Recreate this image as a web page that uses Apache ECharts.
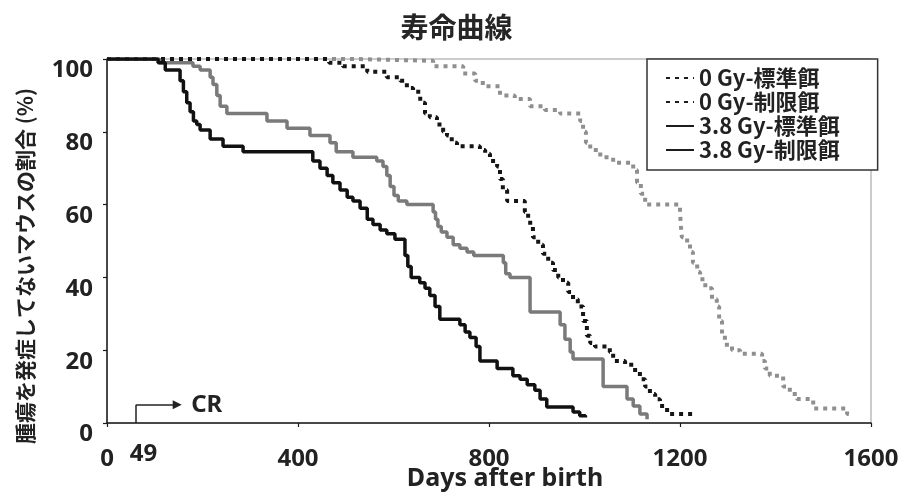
<!DOCTYPE html>
<html>
<head>
<meta charset="utf-8">
<script src="https://cdn.jsdelivr.net/npm/echarts@6/dist/echarts.min.js"></script>
<style>
html,body{margin:0;padding:0;background:#fff;}
#chart{width:913px;height:493px;}
</style>
</head>
<body>
<div id="chart"></div>
<script>
// ---- data ----
const chartTitle = '寿命曲線';
const seriesNames = ['0 Gy-標準餌', '0 Gy-制限餌', '3.8 Gy-標準餌', '3.8 Gy-制限餌'];
const xTickLabels = [0, 49, 400, 800, 1200, 1600];
const yTickInterval = 20;

// 0 Gy - standard diet (black dotted)
const ctrlStdDays = [0,465,494,545,586,614,628,641,656,666,676,691,704,712,722,733,781,792,802,817,823,829,838,875,882,892,903,913,924,934,945,955,966,976,986,997,1005,1012,1022,1053,1060,1085,1106,1116,1127,1137,1148,1158,1173,1227];
const ctrlStdPct  = [100,99,98,96.5,95,94,92,91,88,85,84,82,80,79,77,76,75,74,72,70.5,67,64,61,58,55,51,49,46.5,44,42,40,38.5,36,34,32,28,24,22,21,19.5,17,16,14,12,10,8,6.5,4.7,2.5,2.5];

// 0 Gy - restricted diet (gray dotted)
const ctrlCrDays = [0,519,683,746,771,787,823,854,886,917,949,991,997,1003,1012,1033,1060,1102,1110,1118,1127,1200,1202,1204,1215,1221,1227,1236,1242,1253,1267,1277,1282,1288,1294,1309,1326,1372,1378,1388,1416,1430,1445,1479,1550,1562];
const ctrlCrPct  = [100,99.5,98,96,94,92.5,90,89,87,86,85,83,80,77,75,73,71.5,69.5,66,63,60,58,54,51,49.5,47,44,41.5,39.5,37,34,32,28,24,21.5,20,19,17,15,13,10,8,6.6,4,2.5,2.5];

// 3.8 Gy - standard diet (black solid)
const irrStdDays = [0,107,122,153,160,167,174,181,188,195,216,243,285,431,446,461,473,488,503,515,530,545,557,572,586,603,624,630,637,655,666,676,687,697,739,750,760,773,781,817,850,865,880,896,907,921,976,990,1002];
const irrStdPct  = [100,99,97,94,91,88,85.5,83,82,80.5,78,76,74.5,72,70,68,66,64,62,61,59,56,54.5,53,52,50.5,46,43,40,38.5,37,35,32,28.5,27,25,23.5,21,17,15,13,12,10.5,9,6.6,4.4,3,2,1.5];

// 3.8 Gy - restricted diet (gray solid)
const irrCrDays = [0,110,180,195,216,222,230,237,251,335,377,425,467,480,515,565,578,586,593,601,610,628,683,688,693,700,712,725,739,754,768,830,835,844,886,949,959,970,976,1039,1089,1102,1116,1131];
const irrCrPct  = [100,99,98,97,95,93,90,87,85,83,81,79,77,74.5,73,72,70.5,68,65,62.5,61,60,58,56,54,52.5,51,49,48,47,46,44,41,40,30.5,27,23,19.5,17.6,10,6.6,4.7,2.5,1];

// CR annotation (start of calorie restriction)
const crStartDay = 61;
const crArrowEndDay = 147;
const crLevel = 5;

const zip = (xs, ys) => xs.map((x, i) => [x, ys[i]]);

// ---- styles ----
const numFont = 'Noto Sans';
const cjkFont = 'Noto Sans CJK JP';
const dark = '#1c1c1c';

const chart = echarts.init(document.getElementById('chart'), null, {renderer: 'canvas'});

const option = {
  animation: false,
  backgroundColor: '#fff',
  title: {
    text: chartTitle,
    left: 'center',
    top: 8,
    textStyle: {fontFamily: cjkFont, fontWeight: 'bold', fontSize: 28, color: '#262626'}
  },
  grid: {
    left: 107, right: 42, top: 59, bottom: 70,
    outerBoundsMode: 'none',
    containLabel: false,
    show: true, borderColor: '#999', borderWidth: 1, backgroundColor: 'transparent'
  },
  legend: {
    orient: 'vertical',
    left: 647, top: 59,
    padding: [7, 38, 8, 18],
    itemWidth: 28, itemHeight: 14, itemGap: 0,
    borderColor: '#333', borderWidth: 1.5,
    backgroundColor: '#fff',
    itemStyle: {opacity: 0},
    lineStyle: {opacity: 1},
    textStyle: {fontFamily: cjkFont, fontWeight: 'bold', fontSize: 22, color: '#222', lineHeight: 24},
    data: seriesNames.map(n => ({name: n, itemStyle: {color: dark, opacity: 0}, lineStyle: {color: dark, opacity: 1}}))
  },
  xAxis: {
    type: 'value',
    min: 0, max: 1600, interval: 400,
    splitLine: {show: false},
    axisLine: {lineStyle: {color: dark, width: 1.5}},
    axisTick: {show: true, length: 4, lineStyle: {color: dark, width: 1.2}},
    axisLabel: {
      customValues: xTickLabels,
      margin: 19,
      color: '#222',
      fontFamily: numFont, fontWeight: 'bold', fontSize: 24,
      formatter: v => (v === 49 ? '{b|' + v + '}' : '{a|' + v + '}'),
      rich: {
        a: {fontFamily: numFont, fontWeight: 'bold', fontSize: 24, color: '#222', padding: [5, 0, 0, 0]},
        b: {fontFamily: numFont, fontWeight: 'bold', fontSize: 24, color: '#222', padding: [0, 0, 0, 26]}
      }
    },
    name: 'Days after birth',
    nameLocation: 'middle',
    nameGap: 43,
    nameMoveOverlap: false,
    nameTextStyle: {fontFamily: numFont, fontWeight: 'bold', fontSize: 25, color: '#222',
                    verticalAlign: 'top', lineHeight: 25, padding: [0, 0, 0, 32]}
  },
  yAxis: {
    type: 'value',
    min: 0, max: 100, interval: yTickInterval,
    splitLine: {show: false},
    axisLine: {show: true, lineStyle: {color: dark, width: 1.5}},
    axisTick: {show: true, length: 4, lineStyle: {color: dark, width: 1.2}},
    axisLabel: {
      margin: 14,
      color: '#222',
      fontFamily: numFont, fontWeight: 'bold', fontSize: 24,
      verticalAlign: 'top',
      lineHeight: 23
    }
  },
  graphic: [{
    type: 'text',
    x: 25, y: 266,
    rotation: Math.PI / 2,
    style: {
      text: '腫瘍を発症してないマウスの割合 (%)',
      font: 'bold 21px "Noto Sans CJK JP"',
      fill: '#222',
      textAlign: 'center',
      textVerticalAlign: 'middle'
    }
  }],
  series: [
    {
      name: seriesNames[1], type: 'line', step: 'end', symbol: 'none', z: 2,
      data: zip(ctrlCrDays, ctrlCrPct),
      itemStyle: {color: '#8f8f8f'},
      lineStyle: {color: '#8f8f8f', width: 4, type: [4, 5], cap: 'butt'}
    },
    {
      name: seriesNames[0], type: 'line', step: 'end', symbol: 'none', z: 3,
      data: zip(ctrlStdDays, ctrlStdPct),
      itemStyle: {color: '#151515'},
      lineStyle: {color: '#151515', width: 4, type: [4, 5], cap: 'butt'}
    },
    {
      name: seriesNames[3], type: 'line', step: 'end', symbol: 'none', z: 4,
      data: zip(irrCrDays, irrCrPct),
      itemStyle: {color: '#7a7a7a'},
      lineStyle: {color: '#7a7a7a', width: 3.5}
    },
    {
      name: seriesNames[2], type: 'line', step: 'end', symbol: 'none', z: 5,
      data: zip(irrStdDays, irrStdPct),
      itemStyle: {color: '#111'},
      lineStyle: {color: '#111', width: 3.5},
      markLine: {
        silent: true,
        animation: false,
        symbol: ['none', 'none'],
        symbolSize: 9,
        lineStyle: {color: '#222', width: 1.5, type: 'solid'},
        label: {show: false},
        data: [
          [{coord: [crStartDay, 0]}, {coord: [crStartDay, crLevel]}],
          [{coord: [crStartDay, crLevel]},
           {coord: [crArrowEndDay, crLevel], symbol: 'triangle',
            label: {show: true, position: 'end', formatter: 'CR', distance: 14,
                    fontFamily: numFont, fontWeight: 'bold', fontSize: 24, color: '#222'}}]
        ]
      }
    }
  ]
};

chart.setOption(option);
</script>
</body>
</html>
